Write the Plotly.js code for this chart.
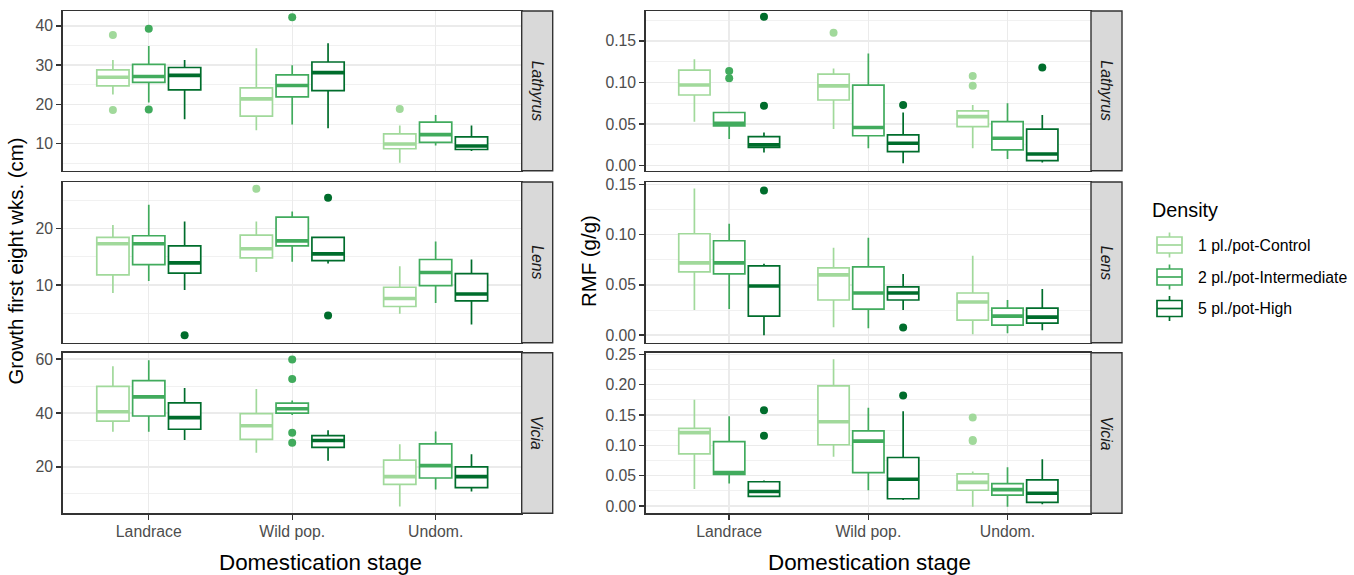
<!DOCTYPE html>
<html><head><meta charset="utf-8">
<script src="https://cdn.plot.ly/plotly-3.0.1.min.js"></script>
<style>html,body{margin:0;padding:0;background:#fff}#chart{width:1354px;height:575px}</style>
</head><body><div id="chart"></div>
<script>
// ---------------- DATA ----------------
const stages = ['Landrace', 'Wild pop.', 'Undom.'];
const densities = ['1 pl./pot-Control', '2 pl./pot-Intermediate', '5 pl./pot-High'];
const species = ['Lathyrus', 'Lens', 'Vicia'];

// each stage: [lower whisker, Q1, median, Q3, upper whisker]
// Growth first eight weeks (cm)
const growthLathyrusControl = [[22.5, 24.7, 26.9, 28.8, 31.3], [13.4, 17.0, 21.4, 24.2, 34.3], [5.1, 8.7, 9.9, 12.5, 14.6]];
const growthLathyrusInter   = [[20.5, 25.6, 27.1, 30.2, 34.9], [14.9, 21.9, 24.8, 27.5, 30.0], [9.5, 10.3, 12.3, 15.5, 17.3]];
const growthLathyrusHigh    = [[16.2, 23.7, 27.4, 29.4, 31.3], [13.9, 23.5, 28.1, 30.8, 35.6], [8.1, 8.5, 9.4, 11.7, 14.6]];
const growthLathyrusControlOut = [[37.7, 18.6], [], [18.8]];
const growthLathyrusInterOut   = [[39.3, 18.7], [42.2], []];
const growthLathyrusHighOut    = [[], [], []];

const growthLensControl = [[8.6, 11.8, 17.3, 18.4, 20.6], [12.3, 14.8, 16.4, 18.8, 21.2], [4.9, 6.2, 7.6, 9.6, 13.3]];
const growthLensInter   = [[10.7, 13.6, 17.3, 18.7, 24.2], [14.1, 16.9, 17.8, 22.0, 23.0], [6.8, 9.9, 12.2, 14.5, 17.7]];
const growthLensHigh    = [[9.1, 12.1, 13.9, 16.9, 21.2], [13.8, 14.3, 15.5, 18.4, 18.4], [3.0, 7.2, 8.4, 12.0, 14.5]];
const growthLensControlOut = [[], [27.0], []];
const growthLensInterOut   = [[], [], []];
const growthLensHighOut    = [[1.1], [25.4, 4.6], []];

const growthViciaControl = [[33.1, 37.0, 40.5, 49.9, 57.4], [25.3, 30.2, 35.3, 39.8, 48.9], [5.3, 13.5, 16.4, 22.5, 28.4]];
const growthViciaInter   = [[33.1, 38.9, 46.0, 52.0, 59.6], [39.3, 40.0, 41.6, 43.7, 44.7], [11.6, 15.9, 20.5, 28.6, 33.2]];
const growthViciaHigh    = [[30.0, 34.0, 38.3, 43.8, 49.3], [22.3, 27.3, 29.8, 31.6, 33.6], [10.9, 12.3, 16.4, 20.0, 24.7]];
const growthViciaControlOut = [[], [], []];
const growthViciaInterOut   = [[], [59.9, 52.6, 32.7, 29.0], []];
const growthViciaHighOut    = [[], [], []];

// RMF (g/g)
const rmfLathyrusControl = [[0.053, 0.085, 0.097, 0.115, 0.128], [0.044, 0.079, 0.096, 0.110, 0.117], [0.021, 0.047, 0.059, 0.066, 0.073]];
const rmfLathyrusInter   = [[0.032, 0.048, 0.051, 0.064, 0.064], [0.021, 0.036, 0.046, 0.097, 0.135], [0.008, 0.019, 0.033, 0.053, 0.075]];
const rmfLathyrusHigh    = [[0.016, 0.022, 0.025, 0.035, 0.040], [0.003, 0.017, 0.027, 0.037, 0.064], [0.004, 0.006, 0.014, 0.044, 0.061]];
const rmfLathyrusControlOut = [[], [0.160], [0.108, 0.096]];
const rmfLathyrusInterOut   = [[0.114, 0.105], [], []];
const rmfLathyrusHighOut    = [[0.179, 0.072], [0.073], [0.118]];

const rmfLensControl = [[0.025, 0.063, 0.072, 0.101, 0.146], [0.008, 0.035, 0.060, 0.067, 0.087], [0.001, 0.015, 0.033, 0.042, 0.079]];
const rmfLensInter   = [[0.026, 0.061, 0.072, 0.094, 0.111], [0.007, 0.026, 0.042, 0.068, 0.097], [0.002, 0.010, 0.019, 0.027, 0.035]];
const rmfLensHigh    = [[0.000, 0.019, 0.049, 0.069, 0.071], [0.025, 0.035, 0.042, 0.048, 0.061], [0.005, 0.012, 0.018, 0.027, 0.046]];
const rmfLensControlOut = [[], [], []];
const rmfLensInterOut   = [[], [], []];
const rmfLensHighOut    = [[0.144], [0.0076], []];

const rmfViciaControl = [[0.028, 0.086, 0.121, 0.128, 0.175], [0.081, 0.101, 0.139, 0.198, 0.242], [-0.001, 0.026, 0.039, 0.053, 0.057]];
const rmfViciaInter   = [[0.037, 0.052, 0.055, 0.106, 0.148], [0.026, 0.055, 0.107, 0.124, 0.162], [-0.001, 0.018, 0.027, 0.037, 0.064]];
const rmfViciaHigh    = [[0.015, 0.016, 0.024, 0.040, 0.042], [0.010, 0.012, 0.044, 0.080, 0.156], [0.003, 0.006, 0.021, 0.043, 0.077]];
const rmfViciaControlOut = [[], [], [0.146, 0.109, 0.107]];
const rmfViciaInterOut   = [[], [], []];
const rmfViciaHighOut    = [[0.158, 0.116], [0.182], []];

// tick labels
const growthLathyrusTicks = [10, 20, 30, 40];
const growthLathyrusMinor = [5, 15, 25, 35];
const growthLensTicks = [10, 20];
const growthLensMinor = [5, 15, 25];
const growthViciaTicks = [20, 40, 60];
const growthViciaMinor = [10, 30, 50];
const rmfLathyrusTicks = [0, 0.05, 0.10, 0.15];
const rmfLathyrusMinor = [0.025, 0.075, 0.125, 0.175];
const rmfLensTicks = [0, 0.05, 0.10, 0.15];
const rmfLensMinor = [0.025, 0.075, 0.125];
const rmfViciaTicks = [0, 0.05, 0.10, 0.15, 0.20, 0.25];
const rmfViciaMinor = [0.025, 0.075, 0.125, 0.175, 0.225];

const xTitle = 'Domestication stage';
const yTitleGrowth = 'Growth first eight wks. (cm)';
const yTitleRmf = 'RMF (g/g)';
const legendTitle = 'Density';

// ---------------- STYLE / LAYOUT ----------------
const W = 1354, H = 575;
const FONT = '"Liberation Sans", Arial, Helvetica, sans-serif';
const colors = ['#A1D99B', '#41AB5D', '#006D2C'];
const cols = [[62.7, 521.7], [645.7, 1091]];
const rows = [[11, 170.7], [182, 342.7], [352.7, 513.3]];
const stripW = 31;
const px = v => v / W, py = v => 1 - v / H;
const BORDER = '#333333', GRID = '#EBEBEB';

const panels = [
  {c: 0, r: 0, d: [growthLathyrusControl, growthLathyrusInter, growthLathyrusHigh], o: [growthLathyrusControlOut, growthLathyrusInterOut, growthLathyrusHighOut], range: [3.1, 43.8], t: growthLathyrusTicks, m: growthLathyrusMinor, dec: 0},
  {c: 1, r: 0, d: [rmfLathyrusControl, rmfLathyrusInter, rmfLathyrusHigh], o: [rmfLathyrusControlOut, rmfLathyrusInterOut, rmfLathyrusHighOut], range: [-0.006, 0.186], t: rmfLathyrusTicks, m: rmfLathyrusMinor, dec: 2},
  {c: 0, r: 1, d: [growthLensControl, growthLensInter, growthLensHigh], o: [growthLensControlOut, growthLensInterOut, growthLensHighOut], range: [-0.2, 28.2], t: growthLensTicks, m: growthLensMinor, dec: 0},
  {c: 1, r: 1, d: [rmfLensControl, rmfLensInter, rmfLensHigh], o: [rmfLensControlOut, rmfLensInterOut, rmfLensHighOut], range: [-0.0075, 0.1525], t: rmfLensTicks, m: rmfLensMinor, dec: 2},
  {c: 0, r: 2, d: [growthViciaControl, growthViciaInter, growthViciaHigh], o: [growthViciaControlOut, growthViciaInterOut, growthViciaHighOut], range: [2.8, 62.4], t: growthViciaTicks, m: growthViciaMinor, dec: 0},
  {c: 1, r: 2, d: [rmfViciaControl, rmfViciaInter, rmfViciaHigh], o: [rmfViciaControlOut, rmfViciaInterOut, rmfViciaHighOut], range: [-0.012, 0.2527], t: rmfViciaTicks, m: rmfViciaMinor, dec: 2}
];

const traces = [];
const layout = {
  width: W, height: H, margin: {l: 0, r: 0, t: 0, b: 0},
  paper_bgcolor: '#FFFFFF', plot_bgcolor: '#FFFFFF',
  boxmode: 'group', boxgap: 0.25, boxgroupgap: 0.1,
  showlegend: false, font: {family: FONT, color: '#000000'},
  shapes: [], annotations: []
};
const tickFont = {family: FONT, size: 15.8, color: '#4D4D4D'};

panels.forEach((p, i) => {
  const k = i + 1;
  const xid = k === 1 ? 'x' : 'x' + k, yid = k === 1 ? 'y' : 'y' + k;
  const xkey = k === 1 ? 'xaxis' : 'xaxis' + k, ykey = k === 1 ? 'yaxis' : 'yaxis' + k;
  const cx = cols[p.c], ry = rows[p.r];
  const bottom = p.r === 2;
  layout[xkey] = {
    domain: [px(cx[0]), px(cx[1])], anchor: yid, type: 'category',
    categoryorder: 'array', categoryarray: stages, range: [-0.6, 2.6],
    showgrid: true, gridcolor: GRID, gridwidth: 1.4, zeroline: false,
    showline: true, mirror: true, linecolor: BORDER, linewidth: 1.4,
    ticks: bottom ? 'outside' : '', ticklen: 5, tickwidth: 1.4, tickcolor: BORDER,
    showticklabels: bottom, tickfont: tickFont, ticklabelstandoff: -2, fixedrange: true
  };
  layout[ykey] = {
    domain: [py(ry[1]), py(ry[0])], anchor: xid, range: p.range,
    tickmode: 'array', tickvals: p.t, ticktext: p.t.map(v => v.toFixed(p.dec)),
    ticks: 'outside', ticklen: 5, tickwidth: 1.4, tickcolor: BORDER, tickfont: tickFont,
    showgrid: true, gridcolor: GRID, gridwidth: 1.4, zeroline: false,
    minor: {tickmode: 'array', tickvals: p.m, showgrid: true, gridcolor: GRID, gridwidth: 0.7, ticks: ''},
    showline: true, mirror: true, linecolor: BORDER, linewidth: 1.4, fixedrange: true
  };
  p.d.forEach((stats, d) => {
    const col = (j) => stats.map(s => s[j]);
    // empty outlier lists become [null] so each stage keeps a (blank) sample list
    const outs = p.o[d].map(a => a.length ? a : [null]);
    traces.push({
      type: 'box', orientation: 'v', xaxis: xid, yaxis: yid, name: densities[d],
      offsetgroup: 'g' + d, x: stages,
      lowerfence: col(0), q1: col(1), median: col(2), q3: col(3), upperfence: col(4),
      y: outs, boxpoints: 'outliers', jitter: 0, pointpos: 0,
      marker: {color: colors[d], size: 8, opacity: 1, line: {width: 0}},
      line: {color: colors[d], width: 1.7}, fillcolor: '#FFFFFF', whiskerwidth: 0,
      hoverinfo: 'skip', showlegend: false
    });
    // thicker median bar
    traces.push({
      type: 'box', orientation: 'v', xaxis: xid, yaxis: yid, name: densities[d] + ' median',
      offsetgroup: 'g' + d, x: stages,
      lowerfence: col(2), q1: col(2), median: col(2), q3: col(2), upperfence: col(2),
      boxpoints: false, line: {color: colors[d], width: 3.6}, fillcolor: 'rgba(0,0,0,0)',
      whiskerwidth: 0, hoverinfo: 'skip', showlegend: false
    });
  });
  // strip
  layout.shapes.push({type: 'rect', xref: 'paper', yref: 'paper',
    x0: px(cx[1]), x1: px(cx[1] + stripW), y0: py(ry[1]), y1: py(ry[0]),
    fillcolor: '#D9D9D9', line: {color: BORDER, width: 1.4}, layer: 'above'});
  layout.annotations.push({xref: 'paper', yref: 'paper', x: px(cx[1] + stripW / 2), y: py((ry[0] + ry[1]) / 2),
    text: '<i>' + species[p.r] + '</i>', showarrow: false, textangle: 90,
    xanchor: 'center', yanchor: 'middle', font: {family: FONT, size: 15.8, color: '#1A1A1A'}});
});

// axis titles
const xTitleCenters = [320, 869];
xTitleCenters.forEach(xc => {
  layout.annotations.push({xref: 'paper', yref: 'paper', x: px(xc), y: py(562),
    text: xTitle, showarrow: false, xanchor: 'center', yanchor: 'middle',
    font: {family: FONT, size: 22.4, color: '#000000'}});
});
layout.annotations.push({xref: 'paper', yref: 'paper', x: px(16), y: py(261.5), text: yTitleGrowth,
  showarrow: false, textangle: -90, xanchor: 'center', yanchor: 'middle', font: {family: FONT, size: 20.4, color: '#000000'}});
layout.annotations.push({xref: 'paper', yref: 'paper', x: px(589), y: py(261), text: yTitleRmf,
  showarrow: false, textangle: -90, xanchor: 'center', yanchor: 'middle', font: {family: FONT, size: 20.4, color: '#000000'}});

// legend (drawn)
layout.annotations.push({xref: 'paper', yref: 'paper', x: px(1150), y: py(210), text: legendTitle,
  showarrow: false, xanchor: 'left', yanchor: 'middle', font: {family: FONT, size: 19.8, color: '#000000'}});
const keyY = [245, 277, 308.5];
densities.forEach((name, d) => {
  const yc = keyY[d], x0 = 1157, x1 = 1182, xm = (x0 + x1) / 2;
  const ln = {color: colors[d], width: 1.7};
  layout.shapes.push({type: 'line', xref: 'paper', yref: 'paper', x0: px(xm), x1: px(xm), y0: py(yc - 12.5), y1: py(yc + 12.5), line: ln});
  layout.shapes.push({type: 'rect', xref: 'paper', yref: 'paper', x0: px(x0), x1: px(x1), y0: py(yc + 8), y1: py(yc - 8), fillcolor: '#FFFFFF', line: ln});
  layout.shapes.push({type: 'line', xref: 'paper', yref: 'paper', x0: px(x0), x1: px(x1), y0: py(yc), y1: py(yc), line: ln});
  layout.annotations.push({xref: 'paper', yref: 'paper', x: px(1196), y: py(yc), text: name,
    showarrow: false, xanchor: 'left', yanchor: 'middle', font: {family: FONT, size: 15.8, color: '#000000'}});
});

Plotly.newPlot('chart', traces, layout, {staticPlot: true, displayModeBar: false});
</script>
</body></html>
